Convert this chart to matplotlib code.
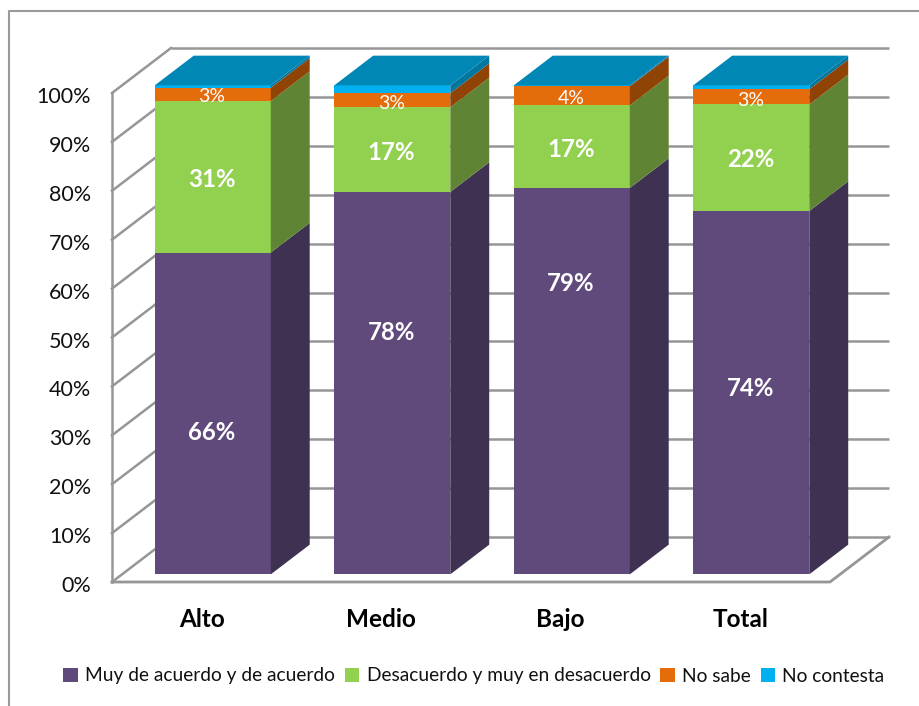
import matplotlib.pyplot as plt
from matplotlib.patches import Polygon, Patch, Rectangle
from matplotlib.transforms import ScaledTranslation

plt.rcParams['font.family'] = ['Lato', 'DejaVu Sans']

categories = ['Alto', 'Medio', 'Bajo', 'Total']
series_names = ['Muy de acuerdo y de acuerdo', 'Desacuerdo y muy en desacuerdo', 'No sabe', 'No contesta']
acuerdo = [65.8, 78.2, 79.0, 74.3]
desacuerdo = [31.0, 17.3, 16.9, 21.8]
no_sabe = [2.7, 2.9, 3.9, 3.1]
no_contesta = [0.5, 1.6, 0.2, 0.8]

labels_acuerdo = ['66%', '78%', '79%', '74%']
labels_desacuerdo = ['31%', '17%', '17%', '22%']
labels_no_sabe = ['3%', '3%', '4%', '3%']

# label heights in percent, they are not centred in the segments in the original
pos_acuerdo = [30.5, 51.0, 61.0, 39.5]
pos_desacuerdo = [82.3, 87.9, 88.4, 86.3]
pos_no_sabe = [99.2, 97.9, 98.9, 98.5]

front_colors = ['#604A7B', '#92D050', '#E46C0A', '#00B0F0']
side_colors = ['#3F3151', '#5F8534', '#8F4405', '#0076A0']
top_color = '#0087B5'
grid_color = '#969696'

W, H = 920, 706
fig = plt.figure(figsize=(W / 100, H / 100), dpi=100)

# axes = front plane of the 3d box, in pixels
x0, x1, y0, y1 = 112, 830, 582, 93
ax = fig.add_axes([x0 / W, 1 - y0 / H, (x1 - x0) / W, (y0 - y1) / H])
ax.set_xlim(0, 4)
ax.set_ylim(0, 100)
ax.patch.set_alpha(0)
for s in ax.spines.values():
    s.set_visible(False)

ux = 4 / (x1 - x0)
uy = 100 / (y0 - y1)
depth_x, depth_y = 59 * ux, 45 * uy


def back(x, y, d=1.0):
    return x + depth_x * d, y + depth_y * d


# walls and floor
yticks = list(range(0, 101, 10))
for v in yticks:
    bx, by = back(4, v)
    lx, ly = back(0, v)
    ax.plot([lx, bx], [ly, by], color=grid_color, lw=1.8, clip_on=False, zorder=1, solid_capstyle='butt')
    ax.plot([0, lx], [v, ly], color=grid_color, lw=1.8, clip_on=False, zorder=1)
ax.plot([0, 0], [0, 100], color=grid_color, lw=1.8, clip_on=False, zorder=1)
ax.plot([0, 4, back(4, 0)[0]], [0, 0, back(4, 0)[1]], color=grid_color, lw=2, clip_on=False, zorder=1)

# bars
bar_w = 116 * ux
d_front, d_back = 0.17, 0.83
series = [acuerdo, desacuerdo, no_sabe, no_contesta]
for i in range(len(categories)):
    left = i + 0.5 - bar_w / 2 + 1.0 * ux
    right = left + bar_w
    bottom = 0
    for j, vals in enumerate(series):
        top = bottom + vals[i]
        fx0, fy0 = back(left, bottom, d_front)
        fx1, fy1 = back(right, top, d_front)
        ax.add_patch(Rectangle((fx0, fy0), fx1 - fx0, fy1 - fy0, fc=front_colors[j], ec='none', clip_on=False, zorder=3))
        ax.add_patch(Polygon([(fx1, fy0), back(right, bottom, d_back), back(right, top, d_back), (fx1, fy1)],
                             fc=side_colors[j], ec='none', clip_on=False, zorder=3))
        bottom = top
    ax.add_patch(Polygon([back(left, bottom, d_front), back(right, bottom, d_front),
                          back(right, bottom, d_back), back(left, bottom, d_back)],
                         fc=top_color, ec='none', clip_on=False, zorder=3))
    cx = back(i + 0.5, 0, d_front)[0]
    ax.text(cx, pos_acuerdo[i], labels_acuerdo[i], color='white', fontsize=17.3, fontweight='bold', ha='center', va='center', zorder=5)
    ax.text(cx, pos_desacuerdo[i], labels_desacuerdo[i], color='white', fontsize=17.3, fontweight='bold', ha='center', va='center', zorder=5)
    ax.text(cx, pos_no_sabe[i], labels_no_sabe[i], color='white', fontsize=14, ha='center', va='center', zorder=5)

ax.set_xticks([i + 0.5 for i in range(len(categories))])
ax.set_xticklabels(categories, fontsize=17.5, fontweight='bold', color='black')
ax.set_yticks(yticks)
ax.set_yticklabels(['%d%%' % v for v in yticks], fontsize=15.5, color='#111111')
ax.tick_params(axis='x', length=0, pad=18.5)
ax.tick_params(axis='y', length=0, pad=15)
shift = ScaledTranslation(0, -1.5 / 72, fig.dpi_scale_trans)
for t in ax.get_yticklabels():
    t.set_transform(t.get_transform() + shift)

handles = [Patch(fc=c, ec='none') for c in front_colors]
fig.legend(handles, series_names, loc='center', bbox_to_anchor=(474 / W, 1 - 676 / H), ncol=4, frameon=False,
           fontsize=13.75, handlelength=0.75, handleheight=0.75, handletextpad=0.4, columnspacing=0.5, borderpad=0,
           labelcolor='#111111')

# chart area border
fig.add_artist(plt.Line2D([9 / W, 9 / W, 1], [0, 1 - 11 / H, 1 - 11 / H], color='#9a9a9a', lw=1.5))

fig.savefig('out.png', dpi=100)
